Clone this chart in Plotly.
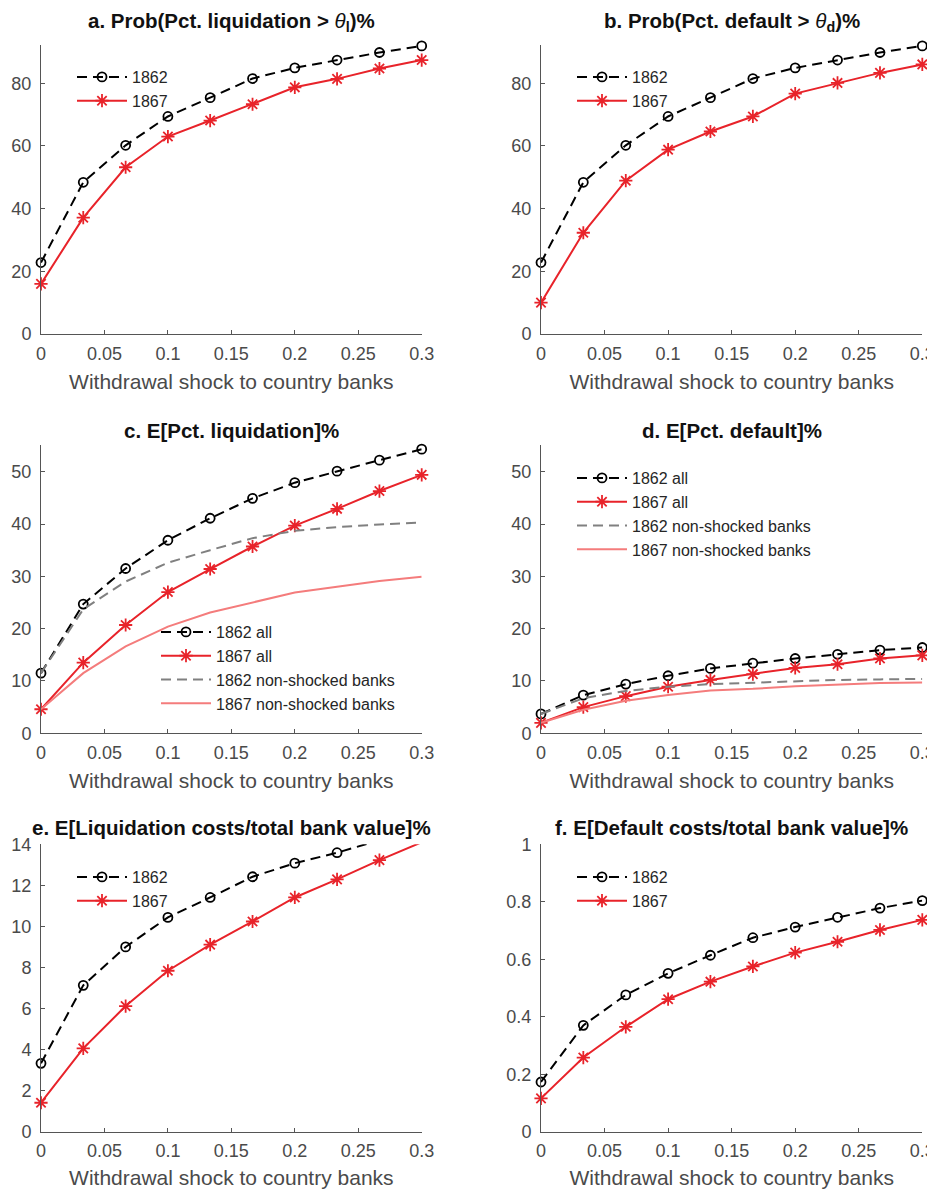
import plotly.graph_objects as go

# page body has an 8px default margin; the figure is sized and shifted to compensate
OFF = 8
W, H = 935 - OFF, 1189 - OFF

shock = [0, 0.0333, 0.0667, 0.1, 0.1333, 0.1667, 0.2, 0.2333, 0.2667, 0.3]

# a. Prob(Pct. liquidation > theta_l)%
a_1862 = [22.8, 48.4, 60.2, 69.4, 75.4, 81.5, 84.9, 87.4, 89.8, 91.9]
a_1867 = [16.0, 37.1, 53.2, 63.0, 68.1, 73.3, 78.7, 81.4, 84.7, 87.4]
# b. Prob(Pct. default > theta_d)%
b_1862 = [22.8, 48.4, 60.2, 69.4, 75.4, 81.5, 84.9, 87.4, 89.8, 91.9]
b_1867 = [10.0, 32.3, 48.9, 58.8, 64.6, 69.4, 76.7, 80.1, 83.3, 86.0]
# c. E[Pct. liquidation]%
c_1862_all = [11.5, 24.7, 31.5, 36.9, 41.1, 44.9, 47.9, 50.1, 52.2, 54.3]
c_1867_all = [4.6, 13.5, 20.7, 27.0, 31.4, 35.7, 39.7, 42.9, 46.3, 49.4]
c_1862_ns = [11.5, 23.7, 29.0, 32.6, 35.0, 37.3, 38.7, 39.4, 39.9, 40.3]
c_1867_ns = [4.6, 11.5, 16.6, 20.4, 23.1, 25.0, 26.9, 28.0, 29.1, 29.9]
# d. E[Pct. default]%
d_1862_all = [3.7, 7.3, 9.4, 11.0, 12.4, 13.4, 14.3, 15.1, 15.9, 16.4]
d_1867_all = [2.0, 5.0, 7.1, 8.9, 10.2, 11.3, 12.5, 13.2, 14.3, 14.9]
d_1862_ns = [3.7, 6.7, 8.1, 8.9, 9.4, 9.7, 10.0, 10.2, 10.3, 10.4]
d_1867_ns = [2.0, 4.5, 6.2, 7.3, 8.2, 8.5, 9.0, 9.3, 9.6, 9.7]
# e. E[Liquidation costs/total bank value]%
e_1862 = [3.33, 7.13, 9.0, 10.44, 11.41, 12.42, 13.08, 13.59, 14.2, 14.7]
e_1867 = [1.41, 4.06, 6.12, 7.84, 9.11, 10.24, 11.41, 12.29, 13.23, 14.1]
# f. E[Default costs/total bank value]%
f_1862 = [0.173, 0.370, 0.476, 0.551, 0.614, 0.675, 0.712, 0.746, 0.778, 0.804]
f_1867 = [0.116, 0.258, 0.365, 0.461, 0.522, 0.575, 0.623, 0.661, 0.702, 0.737]

x_ticks = [0, 0.05, 0.1, 0.15, 0.2, 0.25, 0.3]
x_ticktext = ["0", "0.05", "0.1", "0.15", "0.2", "0.25", "0.3"]

titles = [
    "<b>a. Prob(Pct. liquidation > </b><i>θ</i><b><sub>l</sub>)%</b>",
    "<b>b. Prob(Pct. default > </b><i>θ</i><b><sub>d</sub>)%</b>",
    "<b>c. E[Pct. liquidation]%</b>",
    "<b>d. E[Pct. default]%</b>",
    "<b>e. E[Liquidation costs/total bank value]%</b>",
    "<b>f. E[Default costs/total bank value]%</b>",
]
xlabel = "Withdrawal shock to country banks"

BLACK = "#000000"
RED = "#e8232a"
GRAY = "#808080"
LRED = "#f47c7c"
AXC = "#555555"
TXC = "#4a4a4a"
FONT = "Liberation Sans, Arial, Helvetica, sans-serif"

def px_x(p):
    return (p - OFF) / W

def px_y(p):
    return 1 - (p - OFF) / H

col_px = [(41, 421.7), (541, 922.3)]
row_px = [(45, 334), (445, 733.3), (844.3, 1131.7)]
title_y = [22, 431, 828]
yranges = [[0, 92.2], [0, 92.2], [0, 55.1], [0, 55.1], [0, 14], [0, 1]]
yticks = [[0, 20, 40, 60, 80], [0, 20, 40, 60, 80],
          [0, 10, 20, 30, 40, 50], [0, 10, 20, 30, 40, 50],
          [0, 2, 4, 6, 8, 10, 12, 14], [0, 0.2, 0.4, 0.6, 0.8, 1]]
yticktext = [None, None, None, None, None,
             ["0", "0.2", "0.4", "0.6", "0.8", "1"]]
# legend anchor (line start x px, first entry centre y px)
legend_px = [(70, 78), (570, 78), (154, 633), (570, 479), (70, 878), (570, 878)]

panels = [
    [("1862", a_1862, "k"), ("1867", a_1867, "r")],
    [("1862", b_1862, "k"), ("1867", b_1867, "r")],
    [("1862 all", c_1862_all, "k"), ("1867 all", c_1867_all, "r"),
     ("1862 non-shocked banks", c_1862_ns, "g"), ("1867 non-shocked banks", c_1867_ns, "lr")],
    [("1862 all", d_1862_all, "k"), ("1867 all", d_1867_all, "r"),
     ("1862 non-shocked banks", d_1862_ns, "g"), ("1867 non-shocked banks", d_1867_ns, "lr")],
    [("1862", e_1862, "k"), ("1867", e_1867, "r")],
    [("1862", f_1862, "k"), ("1867", f_1867, "r")],
]

styles = {
    "k": dict(mode="lines+markers", line=dict(color=BLACK, width=2, dash="10px,6px"),
              marker=dict(symbol="circle-open", size=9, color=BLACK, line=dict(width=1.8, color=BLACK))),
    "r": dict(mode="lines+markers", line=dict(color=RED, width=2),
              marker=dict(symbol="asterisk-open", size=11, color=RED, line=dict(width=1.8, color=RED))),
    "g": dict(mode="lines", line=dict(color=GRAY, width=2, dash="10px,6px")),
    "lr": dict(mode="lines", line=dict(color=LRED, width=2)),
}

fig = go.Figure()
layout = dict(width=W, height=H, margin=dict(l=0, r=0, t=0, b=0, pad=0, autoexpand=False),
              paper_bgcolor="white", plot_bgcolor="white",
              font=dict(family=FONT, color=TXC), annotations=[])

for i in range(6):
    r, c = divmod(i, 2)
    n = i + 1
    sfx = "" if n == 1 else str(n)
    xa, ya = "x" + sfx, "y" + sfx
    leg = "legend" + sfx
    for name, vals, st in panels[i]:
        fig.add_trace(go.Scatter(x=shock, y=vals, name=name, xaxis=xa, yaxis=ya,
                                 legend=leg, cliponaxis=False, showlegend=True,
                                 **styles[st]))
    x0, x1 = col_px[c]
    yt, yb = row_px[r]
    layout["xaxis" + sfx] = dict(
        domain=[px_x(x0), px_x(x1)], anchor=ya, range=[0, 0.3], automargin=False,
        showline=True, linecolor=AXC, linewidth=1, mirror=False,
        ticks="inside", ticklen=4, tickcolor=AXC, tickwidth=1,
        tickvals=x_ticks, ticktext=x_ticktext, showgrid=False, zeroline=False,
        tickfont=dict(size=18, color=TXC, family=FONT), ticklabelstandoff=3,
        title=dict(text=xlabel, font=dict(size=21, color=TXC, family=FONT), standoff=11),
        fixedrange=True,
    )
    yax = dict(
        domain=[px_y(yb), px_y(yt)], anchor=xa, range=yranges[i], automargin=False,
        showline=True, linecolor=AXC, linewidth=1, mirror=False,
        ticks="inside", ticklen=4, tickcolor=AXC, tickwidth=1,
        tickvals=yticks[i], showgrid=False, zeroline=False,
        tickfont=dict(size=18, color=TXC, family=FONT), ticklabelstandoff=5,
        fixedrange=True,
    )
    if yticktext[i] is not None:
        yax["ticktext"] = yticktext[i]
    layout["yaxis" + sfx] = yax
    lx, ly = legend_px[i]
    layout[leg] = dict(x=px_x(lx + 2), y=px_y(ly - 18), xanchor="left", yanchor="top",
                       bgcolor="rgba(0,0,0,0)", borderwidth=0, itemwidth=50,
                       font=dict(size=16, color="#262626", family=FONT),
                       tracegroupgap=0)
    layout["annotations"].append(dict(
        text=titles[i], x=px_x((x0 + x1) / 2), y=px_y(title_y[r]), xref="paper", yref="paper",
        xanchor="center", yanchor="middle", showarrow=False,
        font=dict(size=20.5, color="#111111", family=FONT)))

fig.update_layout(**layout)
fig.write_html("out.html")
